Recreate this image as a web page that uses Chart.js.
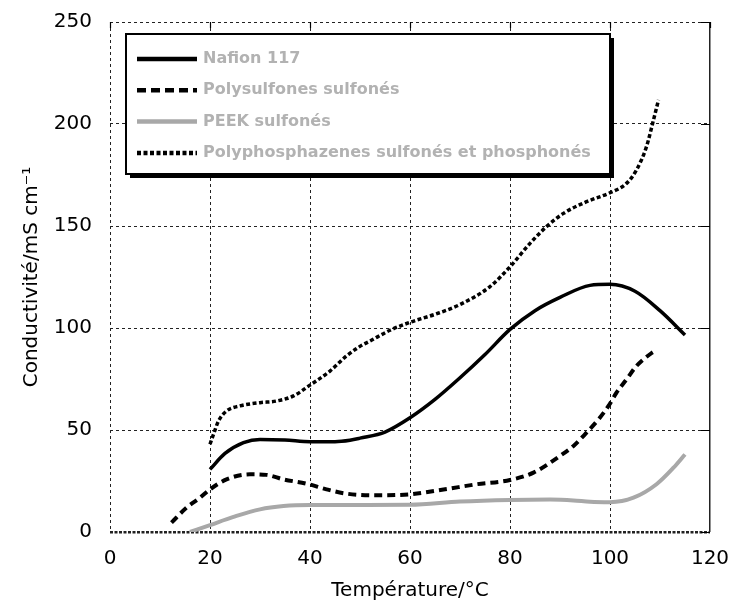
<!DOCTYPE html>
<html><head><meta charset="utf-8">
<script src="https://cdn.jsdelivr.net/npm/chart.js@4.4.1/dist/chart.umd.min.js"></script>
<style>html,body{margin:0;padding:0;background:#fff}canvas{display:block}</style>
</head><body>
<canvas id="c" width="730" height="608"></canvas>
<script>
// ---- data ----
const xTickValues = [0, 20, 40, 60, 80, 100, 120];
const yTickValues = [0, 50, 100, 150, 200, 250];
const seriesNames = ['Nafion 117', 'Polysulfones sulfonés', 'PEEK sulfonés', 'Polyphosphazenes sulfonés et phosphonés'];
const xTitle = 'Température/°C';
const yTitle = 'Conductivité/mS cm⁻¹';

const nafionT = [20, 23, 26.7, 30, 35, 40, 45, 48, 50, 55, 60, 65, 70, 75, 80, 85, 90, 96, 100, 105, 110, 115];
const nafionC = [30.7, 38.5, 43.8, 45.4, 45.1, 44.3, 44.3, 45, 46, 49, 56, 65, 75.6, 87, 99.3, 108.5, 115, 120.9, 121.4, 118, 108.5, 96.6];

const polysulfT = [12.3, 15.3, 18, 20, 23.3, 28, 31.3, 34.7, 39.3, 43.3, 47.3, 53.3, 60, 66.7, 73.3, 80, 84.7, 90, 92.7, 95.3, 97.7, 99.7, 101.3, 103.3, 105.3, 108.2, 109.2];
const polysulfC = [4.6, 11.9, 16.8, 20.9, 25.8, 28.3, 28, 25.8, 23.7, 20.9, 18.8, 18, 18.5, 20.8, 23.4, 25.5, 29.1, 37.3, 42.2, 48.7, 55.2, 61.8, 68.3, 74.8, 81.4, 87.5, 89];

const peekT = [16, 20, 24.7, 30, 34.7, 40, 49.3, 60, 70, 80, 88, 92.7, 96, 100, 104.7, 109.3, 112.7, 115];
const peekC = [0, 3.4, 7.4, 11.1, 12.7, 13.2, 13.2, 13.3, 14.9, 15.7, 15.9, 15.5, 14.8, 14.6, 16.8, 23.4, 31.5, 38];

const phosT = [20, 20.7, 21.7, 23.3, 26, 30, 33.3, 36.7, 40, 44, 47.3, 50, 52, 56, 60, 65, 70, 76, 80, 84, 87.3, 90.7, 95.3, 100, 103.3, 105.3, 107.3, 108.7, 109.7];
const phosC = [43, 47.9, 54.4, 59.3, 61.8, 63.4, 64.2, 66.7, 72, 78.9, 86.3, 91, 93.6, 98.9, 102.8, 106.7, 111.5, 120.3, 130, 141.5, 149.7, 156.2, 161.9, 166.3, 170.9, 177.5, 188.9, 202, 211.8];

// ---- styles ----
const FONT = '"DejaVu Sans", sans-serif';
const GRAY = '#a8a8a8';
const styles = [
  {color: '#000', width: 3.5, dash: []},
  {color: '#000', width: 4, dash: [8, 5]},
  {color: GRAY, width: 4, dash: []},
  {color: '#000', width: 3.5, dash: [4, 2.5]}
];
const pairs = (T, C) => T.map((t, i) => ({x: t, y: C[i]}));
const allSeries = [pairs(nafionT, nafionC), pairs(polysulfT, polysulfC), pairs(peekT, peekC), pairs(phosT, phosC)];

const datasets = allSeries.map((d, i) => ({
  label: seriesNames[i],
  data: d,
  borderColor: styles[i].color,
  borderWidth: styles[i].width,
  borderDash: styles[i].dash,
  borderCapStyle: 'butt',
  pointRadius: 0,
  fill: false,
  cubicInterpolationMode: 'monotone'
}));

const framePlugin = {
  id: 'frameTicks',
  beforeDatasetsDraw(chart) {
    const ctx = chart.ctx, a = chart.chartArea;
    const xs = chart.scales.x, ys = chart.scales.y;
    ctx.save();
    ctx.strokeStyle = '#000';
    ctx.lineWidth = 1.2;
    ctx.beginPath();
    xTickValues.forEach(v => {
      const px = Math.round(xs.getPixelForValue(v)) + 0.5;
      ctx.moveTo(px, a.top); ctx.lineTo(px, a.top + 6);
    });
    yTickValues.forEach(v => {
      const py = Math.round(ys.getPixelForValue(v)) + 0.5;
      ctx.moveTo(a.right, py); ctx.lineTo(a.right - 9, py);
    });
    ctx.stroke();
    ctx.restore();
  }
};

const legendPlugin = {
  id: 'boxLegend',
  afterDraw(chart) {
    const ctx = chart.ctx;
    const bx = 126, by = 34, bw = 484, bh = 140;
    ctx.save();
    ctx.fillStyle = '#000';
    ctx.fillRect(bx + 4, by + 4, bw, bh);
    ctx.fillStyle = '#fff';
    ctx.fillRect(bx, by, bw, bh);
    ctx.lineWidth = 2;
    ctx.strokeStyle = '#000';
    ctx.strokeRect(bx, by, bw, bh);
    ctx.font = 'bold 16px ' + FONT;
    ctx.textBaseline = 'middle';
    ctx.textAlign = 'left';
    chart.data.datasets.forEach((ds, i) => {
      const yy = 59 + i * 31.3;
      ctx.beginPath();
      ctx.strokeStyle = ds.borderColor;
      ctx.lineWidth = 4.5;
      ctx.setLineDash(i === 1 ? [9, 5] : ds.borderDash);
      ctx.moveTo(137, yy);
      ctx.lineTo(197, yy);
      ctx.stroke();
      ctx.setLineDash([]);
      ctx.fillStyle = '#b2b2b2';
      ctx.fillText(ds.label, 203, yy);
    });
    ctx.restore();
  }
};

new Chart(document.getElementById('c'), {
  type: 'line',
  data: {datasets},
  options: {
    responsive: false,
    animation: false,
    devicePixelRatio: 1,
    layout: {padding: {top: 22, right: 20, left: 0, bottom: 0}},
    plugins: {legend: {display: false}, tooltip: {enabled: false}},
    scales: {
      x: {
        type: 'linear',
        min: xTickValues[0],
        max: xTickValues[xTickValues.length - 1],
        afterBuildTicks: s => { s.ticks = xTickValues.map(v => ({value: v})); },
        afterFit: s => { s.height = 76; s.paddingLeft = 0; s.paddingRight = 0; },
        ticks: {color: '#000', font: {family: FONT, size: 20}, padding: 15, maxRotation: 0},
        grid: {
          color: '#222',
          lineWidth: c => (c.tick && c.tick.value === 120) ? 1.5 : 1,
          drawTicks: false
        },
        border: {display: false, dash: c => (c.tick && c.tick.value === 120) ? [] : [3, 3]},
        title: {display: true, text: xTitle, color: '#000', font: {family: FONT, size: 20}, padding: {top: 0, bottom: 5}}
      },
      y: {
        min: yTickValues[0],
        max: yTickValues[yTickValues.length - 1],
        afterBuildTicks: s => { s.ticks = yTickValues.map(v => ({value: v})); },
        afterFit: s => { s.width = 110; s.paddingTop = 0; s.paddingBottom = 0; },
        ticks: {color: '#000', font: {family: FONT, size: 20}, padding: 18},
        grid: {
          color: '#222',
          lineWidth: c => (c.tick && c.tick.value === 0) ? 2.5 : 1,
          drawTicks: false
        },
        border: {display: false, dash: c => (c.tick && c.tick.value === 0) ? [3, 1.5] : [3, 3]},
        title: {display: true, text: yTitle, color: '#000', font: {family: FONT, size: 20}, padding: {top: 20, bottom: 0}}
      }
    }
  },
  plugins: [framePlugin, legendPlugin]
});
</script>
</body></html>
